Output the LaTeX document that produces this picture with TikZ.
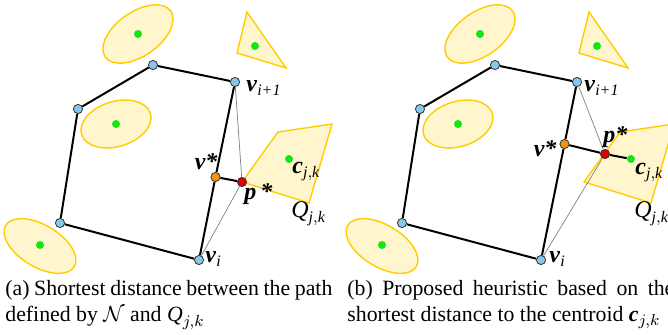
\documentclass[tikz,border=0pt]{standalone}
\usepackage{fontspec}
\setmainfont{Liberation Serif}
\usepackage{amsmath}

\definecolor{regfill}{RGB}{255,246,206}
\definecolor{regline}{RGB}{255,204,0}
\definecolor{centgreen}{RGB}{20,230,20}
\definecolor{vtxblue}{RGB}{135,200,232}
\definecolor{vstar}{RGB}{240,150,20}
\definecolor{pstar}{RGB}{225,0,0}

\newcommand{\vecb}[1]{\textbf{\textit{#1}}}
\newcommand{\itsub}[1]{\textit{#1}}
\newcommand{\jk}{\itsub{j},\itsub{k}}

\begin{document}
\begin{tikzpicture}[x=0.5pt, y=-0.5pt]
  \tikzstyle{region}=[draw=regline, fill=regfill, line width=0.7pt]
  \tikzstyle{centre}=[circle, fill=centgreen, inner sep=0pt, minimum size=4pt]
  \tikzstyle{vtx}=[circle, draw=black!80, fill=vtxblue, line width=0.4pt, inner sep=0pt, minimum size=4.6pt]
  \tikzstyle{route}=[line width=1pt, black]
  \tikzstyle{guide}=[gray, line width=0.35pt]
  \tikzstyle{lbl}=[inner sep=0pt, font=\fontsize{12}{14}\selectfont]
  \tikzstyle{captext}=[inner sep=0pt, anchor=base west, font=\fontsize{10.9}{13.5}\selectfont]

  \useasboundingbox (0,0) rectangle (668,335);
  \clip (0,0) rectangle (668,335);

  % Regioes e caminho, iguais nos dois paineis
  \foreach \dx/\s in {0/a, 342/b} {
    \begin{scope}[xshift=\dx*0.5pt]
      \draw[region, rotate around={35:(138,34)}] (138,34) ellipse [x radius=40, y radius=22];
      \draw[region, rotate around={17:(116,124)}] (116,124) ellipse [x radius=36, y radius=22.5];
      \draw[region, rotate around={-31:(40,246)}] (40,246) ellipse [x radius=40, y radius=21];
      \draw[region] (247,12) -- (237,53) -- (286,68) -- cycle;
      \draw[region] (242,182) -- (278,132) -- (332,124) -- (309,203) -- cycle;

      \node[centre] (g1\s) at (138,34) {};
      \node[centre] (g2\s) at (116,124) {};
      \node[centre] (g3\s) at (40,245) {};
      \node[centre] (g4\s) at (255,46) {};
      \node[centre] (c\s) at (289,159) {};

      \node[vtx] (A\s) at (153,65) {};
      \node[vtx] (B\s) at (235,82) {};
      \node[vtx] (C\s) at (78,109) {};
      \node[vtx] (D\s) at (60,223) {};
      \node[vtx] (E\s) at (199,260) {};
      \draw[route] (C\s) -- (A\s) -- (B\s);
      \draw[route] (E\s) -- (D\s) -- (C\s);
    \end{scope}
  }

  % Painel (a)
  \node[vtx, fill=vstar] (vsa) at (215.5,177) {};
  \node[vtx, fill=pstar] (psa) at (242,182) {};
  \draw[guide] (Ba) -- (psa) -- (Ea);
  \draw[route] (Ba) -- (vsa) -- (Ea);
  \draw[route] (vsa) -- (psa);

  \node[lbl, anchor=base west] (la1) at (246,92) {$\vecb{v}_{\itsub{i+1}}$};
  \node[lbl, anchor=base east] (la2) at (218,170) {\vecb{v*}};
  \node[lbl, anchor=base west] (la3) at (244,200) {\vecb{p\,*}};
  \node[lbl, anchor=base west] (la4) at (292,174) {$\vecb{c}_{\jk}$};
  \node[lbl, anchor=base west] (la5) at (291,218) {$\itsub{Q}_{\jk}$};
  \node[lbl, anchor=base west] (la6) at (205,263) {$\vecb{v}_{\itsub{i}}$};

  % Painel (b)
  \node[vtx, fill=vstar] (vsb) at (564.5,144) {};
  \node[vtx, fill=pstar] (psb) at (605,154) {};
  \draw[guide] (Bb) -- (psb) -- (Eb);
  \draw[route] (Bb) -- (vsb) -- (Eb);
  \draw[route] (vsb) -- (psb) -- (cb);

  \node[lbl, anchor=base west] (lb1) at (584,92) {$\vecb{v}_{\itsub{i+1}}$};
  \node[lbl, anchor=base east] (lb2) at (557,157) {\vecb{v*}};
  \node[lbl, anchor=base west] (lb3) at (603,143) {\vecb{p*}};
  \node[lbl, anchor=base west] (lb4) at (635,175) {$\vecb{c}_{\jk}$};
  \node[lbl, anchor=base west] (lb5) at (634,218) {$\itsub{Q}_{\jk}$};
  \node[lbl, anchor=base west] (lb6) at (549,263) {$\vecb{v}_{\itsub{i}}$};

  % Legendas
  \node[captext] (capa1) at (5,296) {\makebox[163.5pt][s]{(a) Shortest distance between the path}};
  \node[captext] (capa2) at (5,322) {defined by $\mathcal{N}$ and $\itsub{Q}_{j,k}$};
  \node[captext] (capb1) at (347,296) {\makebox[163.5pt][s]{(b) Proposed heuristic based on the}};
  \node[captext] (capb2) at (347,322) {shortest distance to the centroid $\vecb{c}_{j,k}$};
\end{tikzpicture}
\end{document}
